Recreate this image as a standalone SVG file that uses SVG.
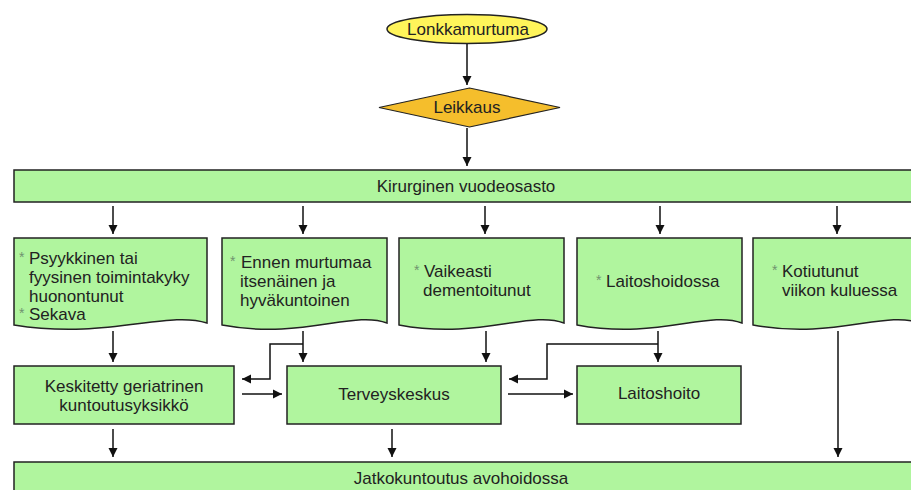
<svg xmlns="http://www.w3.org/2000/svg" width="911" height="490" viewBox="0 0 911 490">
<defs>
<marker id="ah" markerWidth="10" markerHeight="10" refX="9" refY="5" orient="auto" markerUnits="userSpaceOnUse">
<path d="M0,0.5 L9,5 L0,9.5 Z" fill="#111"/>
</marker>
<style>
.g{fill:#b0f59e;stroke:#222;stroke-width:1.5}
.t{font-family:"Liberation Sans",Arial,sans-serif;font-size:17px;fill:#222}
.c{text-anchor:middle}
.s{font-family:"Liberation Sans",Arial,sans-serif;font-size:14px;fill:#6f936f}
.ln{fill:none;stroke:#111;stroke-width:1.5}
.a{fill:none;stroke:#111;stroke-width:1.5;marker-end:url(#ah)}
</style>
</defs>
<rect width="911" height="490" fill="#fff"/>

<g id="lonkkamurtuma">
<ellipse cx="467" cy="29" rx="80" ry="14.5" fill="#fff45a" stroke="#222" stroke-width="1.5"/>
<text class="t c" x="468" y="35">Lonkkamurtuma</text>
</g>

<g id="leikkaus">
<polygon points="379,107.5 469.5,88 560,107.5 469.5,127" fill="#f5be2c" stroke="#222" stroke-width="1.2"/>
<text class="t c" x="467" y="113">Leikkaus</text>
</g>

<g id="kirurginen">
<rect class="g" x="14" y="170" width="905" height="32"/>
<text class="t c" x="466" y="192">Kirurginen vuodeosasto</text>
</g>

<g id="psyykkinen">
<path class="g" d="M14,238 H207 V323 C167,310 107,340 14,325 Z"/>
<text class="s" x="19" y="262">*</text>
<text class="t" x="29" y="264">Psyykkinen tai</text>
<text class="t" x="29" y="283">fyysinen toimintakyky</text>
<text class="t" x="29" y="302">huonontunut</text>
<text class="s" x="19" y="318">*</text>
<text class="t" x="29" y="320">Sekava</text>
</g>

<g id="ennen">
<path class="g" d="M222,238 H387 V323 C353,310 302,340 222,325 Z"/>
<text class="s" x="230" y="266">*</text>
<text class="t" x="241" y="268">Ennen murtumaa</text>
<text class="t" x="240" y="287">itsenäinen ja</text>
<text class="t" x="240" y="306">hyväkuntoinen</text>
</g>

<g id="vaikeasti">
<path class="g" d="M399,238 H564 V323 C530,310 479,340 399,325 Z"/>
<text class="s" x="414" y="275">*</text>
<text class="t" x="424" y="277">Vaikeasti</text>
<text class="t" x="423" y="296">dementoitunut</text>
</g>

<g id="laitoshoidossa">
<path class="g" d="M577,238 H742 V323 C708,310 657,340 577,325 Z"/>
<text class="s" x="596" y="285">*</text>
<text class="t" x="606" y="287">Laitoshoidossa</text>
</g>

<g id="kotiutunut">
<path class="g" d="M753,238 H920 V323 C885,310 833,340 753,325 Z"/>
<text class="s" x="772" y="275">*</text>
<text class="t" x="782" y="277">Kotiutunut</text>
<text class="t" x="782" y="296">viikon kuluessa</text>
</g>

<g id="keskitetty">
<rect class="g" x="14" y="366" width="220" height="58"/>
<text class="t c" x="124" y="392">Keskitetty geriatrinen</text>
<text class="t c" x="124" y="411">kuntoutusyksikkö</text>
</g>

<g id="terveyskeskus">
<rect class="g" x="287" y="366" width="214" height="58"/>
<text class="t c" x="394" y="400">Terveyskeskus</text>
</g>

<g id="laitoshoito">
<rect class="g" x="577" y="366" width="164" height="58"/>
<text class="t c" x="659" y="399">Laitoshoito</text>
</g>

<g id="jatkokuntoutus">
<rect class="g" x="14" y="462" width="905" height="40"/>
<text class="t c" x="461" y="484">Jatkokuntoutus avohoidossa</text>
</g>

<g id="connectors">
<line class="a" x1="467" y1="44" x2="467" y2="85"/>
<line class="a" x1="467" y1="128" x2="467" y2="166"/>
<line class="a" x1="113" y1="206" x2="113" y2="234"/>
<line class="a" x1="303" y1="206" x2="303" y2="234"/>
<line class="a" x1="485" y1="206" x2="485" y2="234"/>
<line class="a" x1="660" y1="206" x2="660" y2="234"/>
<line class="a" x1="837" y1="206" x2="837" y2="234"/>

<line class="a" x1="113" y1="331" x2="113" y2="362"/>
<line class="a" x1="303" y1="331" x2="303" y2="362"/>
<polyline class="a" points="303,344 270,344 270,379 242,379"/>
<line class="a" x1="486" y1="331" x2="486" y2="362"/>
<line class="a" x1="658" y1="331" x2="658" y2="362"/>
<polyline class="a" points="658,344 547,344 547,379 509,379"/>
<line class="a" x1="838" y1="331" x2="838" y2="457"/>

<line class="a" x1="242" y1="394" x2="282" y2="394"/>
<line class="a" x1="508" y1="394" x2="573" y2="394"/>

<line class="a" x1="113" y1="429" x2="113" y2="457"/>
<line class="a" x1="392" y1="429" x2="392" y2="457"/>
</g>
</svg>
